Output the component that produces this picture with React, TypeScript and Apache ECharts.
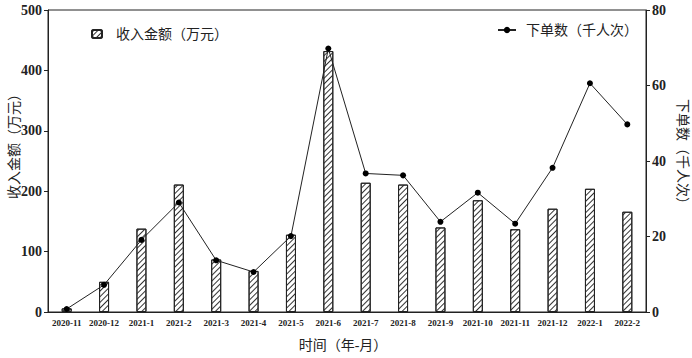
import React, { useEffect, useRef } from "react";
import * as echarts from "echarts";

const categories = [
  "2020-11", "2020-12", "2021-1", "2021-2", "2021-3", "2021-4", "2021-5", "2021-6",
  "2021-7", "2021-8", "2021-9", "2021-10", "2021-11", "2021-12", "2022-1", "2022-2",
];
const revenue = [6, 50, 138, 211, 87, 68, 128, 432, 214, 211, 140, 185, 137, 171, 204, 166];
const orders = [0.8, 7.2, 19.1, 29, 13.7, 10.6, 20.1, 69.8, 36.7, 36.2, 23.9, 31.6, 23.4, 38.2, 60.6, 49.7];

const revenueName = "收入金额（万元）";
const ordersName = "下单数（千人次）";
const xName = "时间（年-月）";

const FONT = "'Liberation Serif', 'Noto Sans CJK SC', serif";
const INK = "#222";

export default function App() {
  const ref = useRef<HTMLDivElement>(null);
  useEffect(() => {
    if (!ref.current) return;
    const chart = echarts.init(ref.current, null, { renderer: "svg" });
    const decal = {
      symbol: "rect",
      symbolSize: 1,
      dashArrayX: [1, 0],
      dashArrayY: [1, 2.2],
      rotation: -Math.PI / 4,
      color: "#333",
    };
    const nameStyle = (text: string) => ({
      text,
      fontFamily: FONT,
      fontSize: 14,
      fill: INK,
      align: "center",
      verticalAlign: "middle",
    });
    chart.setOption({
      animation: false,
      textStyle: { fontFamily: FONT },
      grid: {
        left: 48, right: 46, top: 10, bottom: 46,
        outerBoundsMode: "none",
        containLabel: false,
        show: true, borderColor: INK, borderWidth: 1, backgroundColor: "transparent",
      },
      legend: [
        {
          data: [revenueName],
          left: 86, top: 22,
          itemWidth: 10, itemHeight: 8, itemGap: 10,
          textStyle: { fontFamily: FONT, fontSize: 14, color: INK, padding: [0, 0, 0, 9] },
        },
        {
          data: [ordersName],
          left: 492, top: 18,
          itemWidth: 18, itemHeight: 8,
          textStyle: { fontFamily: FONT, fontSize: 14, color: INK, padding: [0, 0, 0, 5] },
        },
      ],
      graphic: [
        { type: "text", x: 14, y: 143, rotation: Math.PI / 2, style: nameStyle(revenueName) },
        { type: "text", x: 682, y: 155, rotation: -Math.PI / 2, style: nameStyle(ordersName) },
        { type: "text", x: 343, y: 345, style: nameStyle(xName) },
      ],
      xAxis: {
        type: "category",
        data: categories,
        boundaryGap: true,
        axisLine: { lineStyle: { color: INK, width: 1 } },
        axisTick: { show: false },
        axisLabel: { fontFamily: FONT, fontSize: 9, fontWeight: "bold", color: INK, margin: 6, interval: 0 },
      },
      yAxis: [
        {
          type: "value",
          min: 0, max: 500, interval: 100,
          axisLine: { show: true, lineStyle: { color: INK, width: 1 } },
          axisTick: { show: true, length: 4, lineStyle: { color: INK } },
          axisLabel: { fontFamily: FONT, fontSize: 14, fontWeight: "bold", color: INK, margin: 6 },
          splitLine: { show: false },
        },
        {
          type: "value",
          min: 0, max: 80, interval: 20,
          axisLine: { show: true, lineStyle: { color: INK, width: 1 } },
          axisTick: { show: true, length: 4, lineStyle: { color: INK } },
          axisLabel: { fontFamily: FONT, fontSize: 14, fontWeight: "bold", color: INK, margin: 6 },
          splitLine: { show: false },
        },
      ],
      series: [
        {
          name: revenueName,
          type: "bar",
          data: revenue,
          yAxisIndex: 0,
          barWidth: 10,
          itemStyle: { color: "#fff", borderColor: INK, borderWidth: 1, decal },
        },
        {
          name: ordersName,
          type: "line",
          data: orders,
          yAxisIndex: 1,
          symbol: "circle",
          symbolSize: 6,
          lineStyle: { color: INK, width: 1 },
          itemStyle: { color: "#000" },
          z: 5,
        },
      ],
    });
    return () => chart.dispose();
  }, []);
  return (
    <div
      ref={ref}
      style={{ position: "fixed", left: 0, top: 0, width: 692, height: 358, background: "#fff" }}
    />
  );
}
